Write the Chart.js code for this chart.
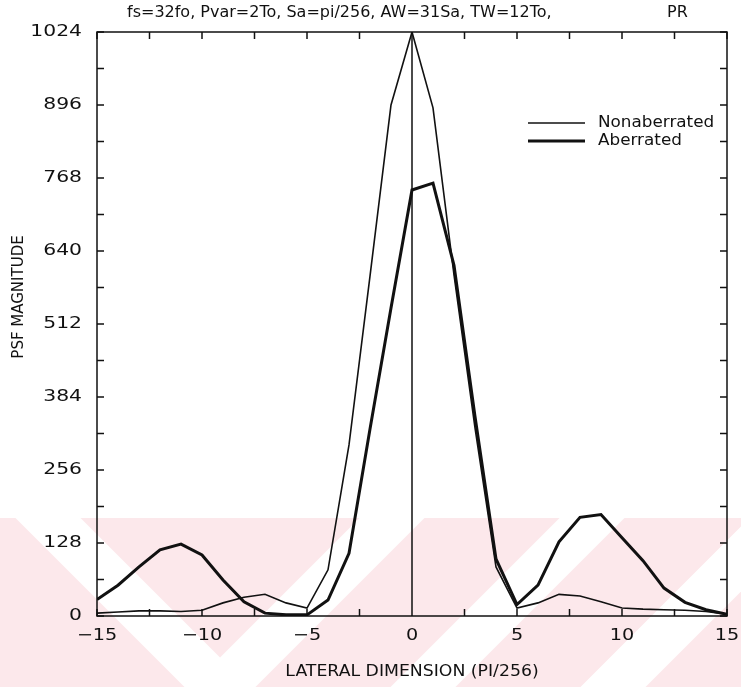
<!DOCTYPE html>
<html lang="en">
<head>
    <meta charset="UTF-8">
    <title>PSF Magnitude</title>
    <script src="https://cdn.jsdelivr.net/npm/chart.js"></script>
    <style>
        html, body { margin: 0; padding: 0; background: #fff; }
        #wrap { width: 741px; height: 687px; }
    </style>
</head>
<body>
    <div id="wrap"><canvas id="psfChart" width="741" height="687"></canvas></div>

    <script>
        // lateral positions (PI/256) and the two PSF curves
        const lateral = [-15, -14, -13, -12, -11, -10, -9, -8, -7, -6, -5, -4, -3, -2, -1, 0,
                         1, 2, 3, 4, 5, 6, 7, 8, 9, 10, 11, 12, 13, 14, 15];
        const nonaberrated = [5, 7, 9, 9, 8, 10, 23, 33, 38, 23, 14, 81, 300, 596, 896, 1024,
                              891, 598, 330, 86, 14, 23, 38, 35, 25, 14, 12, 11, 10, 8, 3];
        const aberrated = [29, 54, 86, 116, 126, 107, 63, 25, 5, 2, 2, 28, 110, 328, 540, 747,
                           759, 615, 350, 100, 20, 54, 130, 173, 178, 137, 97, 49, 24, 11, 3];

        const xTicks = [-15, -10, -5, 0, 5, 10, 15];
        const yTicks = [0, 128, 256, 384, 512, 640, 768, 896, 1024];

        const FONT = 'DejaVu Sans';
        const INK = '#111';

        // text drawn wider than the font's own proportions (plotter lettering)
        function wideText(ctx, str, x, y, size, stretch, align) {
            ctx.save();
            ctx.font = size + 'px ' + FONT;
            const w = ctx.measureText(str).width * stretch;
            let left = x;
            if (align === 'center') left = x - w / 2;
            if (align === 'right') left = x - w;
            ctx.translate(left, y);
            ctx.scale(stretch, 1);
            ctx.textAlign = 'left';
            ctx.textBaseline = 'middle';
            ctx.fillText(str, 0, 0);
            ctx.restore();
        }

        // pink diagonal bands along the bottom of the page
        const watermark = {
            id: 'watermark',
            beforeDraw(chart) {
                const ctx = chart.ctx;
                ctx.save();
                ctx.fillStyle = '#fff';
                ctx.fillRect(0, 0, chart.width, chart.height);
                ctx.beginPath();
                ctx.rect(0, 518, chart.width, chart.height - 518);
                ctx.clip();
                ctx.fillStyle = '#fce8eb';
                ctx.fillRect(0, 518, chart.width, chart.height - 518);
                ctx.strokeStyle = '#fff';
                ctx.lineWidth = 46;
                const stripes = [
                    [0, 470, 240, 710],
                    [200, 710, 440, 470],
                    [400, 710, 640, 470],
                    [590, 710, 830, 470]
                ];
                stripes.forEach(s => {
                    ctx.beginPath();
                    ctx.moveTo(s[0], s[1]);
                    ctx.lineTo(s[2], s[3]);
                    ctx.stroke();
                });
                ctx.restore();
            }
        };

        // box, inward ticks, zero line, labels, title and legend
        const frame = {
            id: 'frame',
            afterDraw(chart) {
                const ctx = chart.ctx;
                const a = chart.chartArea;
                const xs = chart.scales.x, ys = chart.scales.y;
                ctx.save();
                ctx.strokeStyle = INK;
                ctx.fillStyle = INK;
                ctx.lineWidth = 1.5;
                ctx.strokeRect(a.left, a.top, a.right - a.left, a.bottom - a.top);

                const t = 7;
                ctx.beginPath();
                for (let v = -15; v <= 15; v += 2.5) {
                    const px = xs.getPixelForValue(v);
                    ctx.moveTo(px, a.bottom); ctx.lineTo(px, a.bottom - t);
                    ctx.moveTo(px, a.top); ctx.lineTo(px, a.top + t);
                }
                for (let v = 0; v <= 1024; v += 64) {
                    const py = ys.getPixelForValue(v);
                    ctx.moveTo(a.left, py); ctx.lineTo(a.left + t, py);
                    ctx.moveTo(a.right, py); ctx.lineTo(a.right - t, py);
                }
                const x0 = xs.getPixelForValue(0);
                ctx.moveTo(x0, a.top); ctx.lineTo(x0, a.bottom);
                ctx.stroke();

                // tick labels
                xTicks.forEach(v => {
                    const s = v < 0 ? '\u2212' + Math.abs(v) : String(v);
                    wideText(ctx, s, xs.getPixelForValue(v), a.bottom + 20, 16, 1.2, 'center');
                });
                yTicks.forEach(v => {
                    wideText(ctx, String(v), a.left - 15, ys.getPixelForValue(v), 16, 1.27, 'right');
                });

                // title
                wideText(ctx, 'fs=32fo, Pvar=2To, Sa=pi/256, AW=31Sa, TW=12To,', 127, 13, 16, 1.0, 'left');
                wideText(ctx, 'PR', 667, 13, 16, 1.0, 'left');

                // axis titles
                wideText(ctx, 'LATERAL DIMENSION (PI/256)', 412, 672, 16, 1.08, 'center');
                ctx.save();
                ctx.translate(19, 297);
                ctx.rotate(-Math.PI / 2);
                wideText(ctx, 'PSF MAGNITUDE', 0, 0, 15, 1.0, 'center');
                ctx.restore();

                // legend
                chart.data.datasets.forEach((ds, i) => {
                    const y = 123 + i * 18;
                    ctx.beginPath();
                    ctx.lineWidth = ds.borderWidth;
                    ctx.moveTo(528, y);
                    ctx.lineTo(585, y);
                    ctx.stroke();
                    wideText(ctx, ds.label, 598, y, 16, 1.05, 'left');
                });
                ctx.restore();
            }
        };

        new Chart(document.getElementById('psfChart'), {
            type: 'line',
            data: {
                labels: lateral,
                datasets: [
                    {
                        label: 'Nonaberrated',
                        data: lateral.map((x, i) => ({ x: x, y: nonaberrated[i] })),
                        borderColor: INK,
                        borderWidth: 1.6,
                        pointRadius: 0,
                        tension: 0
                    },
                    {
                        label: 'Aberrated',
                        data: lateral.map((x, i) => ({ x: x, y: aberrated[i] })),
                        borderColor: INK,
                        borderWidth: 3,
                        pointRadius: 0,
                        tension: 0
                    }
                ]
            },
            options: {
                responsive: false,
                animation: false,
                layout: { autoPadding: false, padding: { top: 32, right: 14, left: 0, bottom: 0 } },
                plugins: {
                    legend: { display: false },
                    tooltip: { enabled: false }
                },
                scales: {
                    x: {
                        type: 'linear',
                        min: -15,
                        max: 15,
                        grid: { display: false },
                        border: { display: false },
                        afterBuildTicks: s => { s.ticks = xTicks.map(v => ({ value: v })); },
                        afterFit: s => { s.height = 71; },
                        ticks: { display: false }
                    },
                    y: {
                        min: 0,
                        max: 1024,
                        grid: { display: false },
                        border: { display: false },
                        afterBuildTicks: s => { s.ticks = yTicks.map(v => ({ value: v })); },
                        afterFit: s => { s.width = 97; },
                        ticks: { display: false }
                    }
                }
            },
            plugins: [watermark, frame]
        });
    </script>
</body>
</html>
